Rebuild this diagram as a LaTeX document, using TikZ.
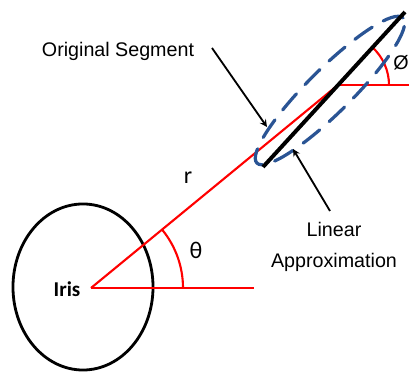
\documentclass[tikz,border=0pt]{standalone}
\usepackage{fontspec}
\setmainfont{Liberation Sans}
\newfontfamily\calfont{Carlito}
\usepackage{tikz}
\usetikzlibrary{shapes.geometric,arrows.meta,arrows,calc}
\definecolor{segblue}{HTML}{2A5494}

\begin{document}
\begin{tikzpicture}[
    x=0.025cm, y=0.025cm,
    redline/.style={red, line width=1.5pt},
    label/.style={font=\fontsize{14}{22}\selectfont, inner sep=0pt, align=center},
    pointer/.style={->, line width=1.3pt},
    >=stealth
]
\useasboundingbox (0,0) rectangle (409,373);

% 虹膜与中心
\node[draw, ellipse, line width=2pt, minimum width=3.5cm, minimum height=4.15cm, inner sep=0pt] (iris) at (83,86) {};
\coordinate (o) at (91,85);
\coordinate (p) at (338,288);

% 红色径向线与水平线
\draw[redline] (o) -- (254,85);
\draw[redline] (o) -- (p);
\draw[redline] (p) -- (409,288);
\draw[redline] ($(o)+(92,0)$) arc[start angle=0, end angle=39.4, radius=92];
\draw[redline] ($(p)+(51,0)$) arc[start angle=0, end angle=47.5, radius=51];

% 原始段 (虚线椭圆) 与线性近似
\draw[segblue, line width=2.3pt, dash pattern=on 15pt off 9pt, line cap=round, rotate around={44.8:(330,282.5)}]
    (330,282.5) ellipse [x radius=103, y radius=22];
\coordinate (a) at (263,206);
\coordinate (b) at (405,361);
\draw[line width=2.8pt] (a) -- (b);

% 标注
\node[label, font=\fontsize{15}{18}\selectfont\calfont\bfseries] (iristxt) at (67,84) {Iris};
\node[label, font=\fontsize{17}{18}\selectfont\calfont] (rtxt) at (188,195) {r};
\node[label, font=\fontsize{17}{18}\selectfont\calfont] (thetatxt) at (196,123) {θ};
\node[label, anchor=west] (phitxt) at (393,310) {Ø};
\node[label] (segtxt) at (118,322) {Original Segment};
\node[label] (approxtxt) at (334,126) {Linear\\Approximation};

% 箭头
\coordinate (s1) at (212,325);
\coordinate (e1) at (267,246);
\coordinate (s2) at (330,162);
\coordinate (e2) at (293,224);
\draw[pointer] (s1) -- (e1);
\draw[pointer] (s2) -- (e2);

\end{tikzpicture}
\end{document}
